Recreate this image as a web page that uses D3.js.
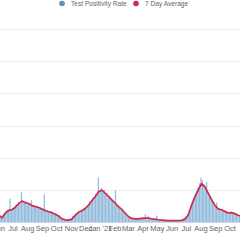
<!DOCTYPE html>
<html>
<head>
<meta charset="utf-8">
<script src="https://cdn.jsdelivr.net/npm/d3@7"></script>
<style>
  html, body { margin: 0; padding: 0; background: #fff; overflow: hidden; }
  svg { display: block; font-family: "Liberation Sans", Arial, sans-serif; }
</style>
</head>
<body>
<div id="chart"></div>
<script>
// daily test positivity, sampled every 3 days from Jun 1 2020
var rateStart = new Date(2020, 5, 1)
var rateStepDays = 3
var rateValues = [
  1.2, 0.7, 0.6, 1.1, 1.4, 1.3, 1.9, 1.7, 3.6, 1.8,
  2.2, 2.0, 2.6, 2.4, 3.1, 2.8, 4.6, 3.3, 2.9, 3.2,
  2.7, 3.0, 2.6, 3.4, 2.4, 2.5, 2.2, 2.5, 2.1, 2.3,
  1.9, 2.0, 4.3, 1.7, 1.8, 1.5, 1.7, 1.3, 1.5, 1.2,
  1.3, 0.9, 1.0, 0.7, 0.6, 0.4, 0.4, 0.3, 0.35, 0.3,
  0.4, 0.5, 0.9, 0.8, 1.2, 1.1, 1.6, 1.5, 1.9, 1.7,
  2.2, 2.0, 2.6, 2.4, 3.2, 3.0, 3.8, 3.5, 4.4, 4.1,
  6.9, 4.9, 5.3, 4.6, 5.0, 4.2, 4.5, 3.8, 4.0, 3.4,
  3.5, 2.9, 4.9, 2.6, 2.3, 2.4, 1.9, 1.8, 1.5, 1.4,
  1.0, 0.8, 0.7, 0.6, 0.6, 0.5, 0.6, 0.5, 0.6, 0.5,
  0.7, 0.5, 0.7, 1.2, 0.6, 1.0, 0.5, 0.6, 0.5, 0.4,
  0.5, 1.0, 0.3, 0.4, 0.3, 0.3, 0.3, 0.2, 0.3, 0.2,
  0.25, 0.2, 0.2, 0.25, 0.2, 0.2, 0.25, 0.2, 0.3, 0.3,
  0.4, 0.6, 0.9, 1.3, 2.0, 2.6, 3.3, 3.8, 4.4, 4.8,
  5.4, 6.0, 6.9, 6.5, 5.9, 5.4, 6.2, 4.6, 4.1, 3.6,
  3.1, 2.7, 2.4, 3.0, 2.1, 2.0, 1.8, 2.0, 1.6, 1.7,
  1.4, 1.5, 1.3, 1.6, 1.3, 1.4, 1.2, 1.1, 1.0, 0.9,
  0.9
]

// 7 day average, weekly from Jun 1 2020
var avgStart = new Date(2020, 5, 1)
var avgStepDays = 7
var avgValues = [
  1.1, 0.65, 1.4, 1.8, 1.9, 2.3, 2.85, 3.25, 3.0, 2.85,
  2.55, 2.4, 2.25, 2.0, 1.8, 1.6, 1.45, 1.2, 0.93, 0.5,
  0.33, 0.3, 0.45, 1.05, 1.5, 1.75, 2.1, 2.6, 3.3, 3.9,
  4.7, 4.95, 4.5, 4.0, 3.45, 2.95, 2.4, 1.95, 1.4, 0.85,
  0.55, 0.5, 0.5, 0.55, 0.6, 0.6, 0.5, 0.45, 0.35, 0.3,
  0.25, 0.2, 0.2, 0.2, 0.2, 0.25, 0.45, 1.1, 2.6, 3.9,
  5.0, 5.95, 5.5, 4.5, 3.5, 2.6, 2.05, 1.9, 1.65, 1.4,
  1.45, 1.3, 1.05, 0.9
]

var yTicks = [0, 5, 10, 15, 20, 25, 30]
var legendLabels = ["Test Positivity Rate", "7 Day Average"]
var legendColors = ["#5f8fbd", "#cf2a4f"]

var width = 240, height = 240

var rateData = rateValues.map(function(v, i) {
  return { date: d3.timeDay.offset(rateStart, i * rateStepDays), value: v }
})
var avgData = avgValues.map(function(v, i) {
  return { date: d3.timeDay.offset(avgStart, i * avgStepDays), value: v }
})

var svg = d3.select("#chart").append("svg")
  .attr("width", width)
  .attr("height", height)

var x = d3.scaleTime()
  .domain([new Date(2020, 6, 1), new Date(2021, 9, 1)])
  .range([13, 230])

var y = d3.scaleLinear()
  .domain([0, 30])
  .range([222, 29])

// grid
svg.append("g")
  .selectAll("line")
  .data(yTicks.filter(function(d) { return d > 0 }))
  .enter()
  .append("line")
  .attr("x1", 0)
  .attr("x2", width)
  .attr("y1", function(d) { return Math.round(y(d)) + 0.5 })
  .attr("y2", function(d) { return Math.round(y(d)) + 0.5 })
  .attr("stroke", "#ececec")
  .attr("stroke-width", 1)

// bars
var barW = x(d3.timeDay.offset(rateStart, rateStepDays)) - x(rateStart)
svg.append("g")
  .selectAll("rect")
  .data(rateData)
  .enter()
  .append("rect")
  .attr("x", function(d) { return x(d.date) - barW / 2 })
  .attr("width", barW * 0.9)
  .attr("y", function(d) { return y(d.value) })
  .attr("height", function(d) { return y(0) - y(d.value) })
  .attr("fill", "#93bbdb")

// x axis line
svg.append("line")
  .attr("x1", 0)
  .attr("x2", width)
  .attr("y1", y(0) + 0.5)
  .attr("y2", y(0) + 0.5)
  .attr("stroke", "#ccd6eb")

// 7 day average
var line = d3.line()
  .x(function(d) { return x(d.date) })
  .y(function(d) { return y(d.value) })

svg.append("path")
  .datum(avgData)
  .attr("d", line)
  .attr("fill", "none")
  .attr("stroke", "#cc2a4e")
  .attr("stroke-width", 1.7)
  .attr("stroke-linejoin", "round")

// month labels
var months = d3.timeMonth.range(new Date(2020, 5, 1), new Date(2021, 10, 1))
svg.append("g")
  .selectAll("text")
  .data(months)
  .enter()
  .append("text")
  .attr("x", function(d) { return x(d) })
  .attr("y", 231)
  .attr("text-anchor", "middle")
  .attr("font-size", "7.5px")
  .attr("fill", "#666")
  .text(function(d) {
    return d.getMonth() === 0 ? d3.timeFormat("%b '%y")(d) : d3.timeFormat("%b")(d)
  })

// legend
var legend = svg.append("g")
var legendX = [62, 136]
legendLabels.forEach(function(label, i) {
  legend.append("circle")
    .attr("cx", legendX[i])
    .attr("cy", 3.5)
    .attr("r", 2.8)
    .attr("fill", legendColors[i])
  legend.append("text")
    .attr("x", legendX[i] + 9)
    .attr("y", 6)
    .attr("font-size", "6.6px")
    .attr("fill", "#666")
    .text(label)
})
</script>
</body>
</html>
